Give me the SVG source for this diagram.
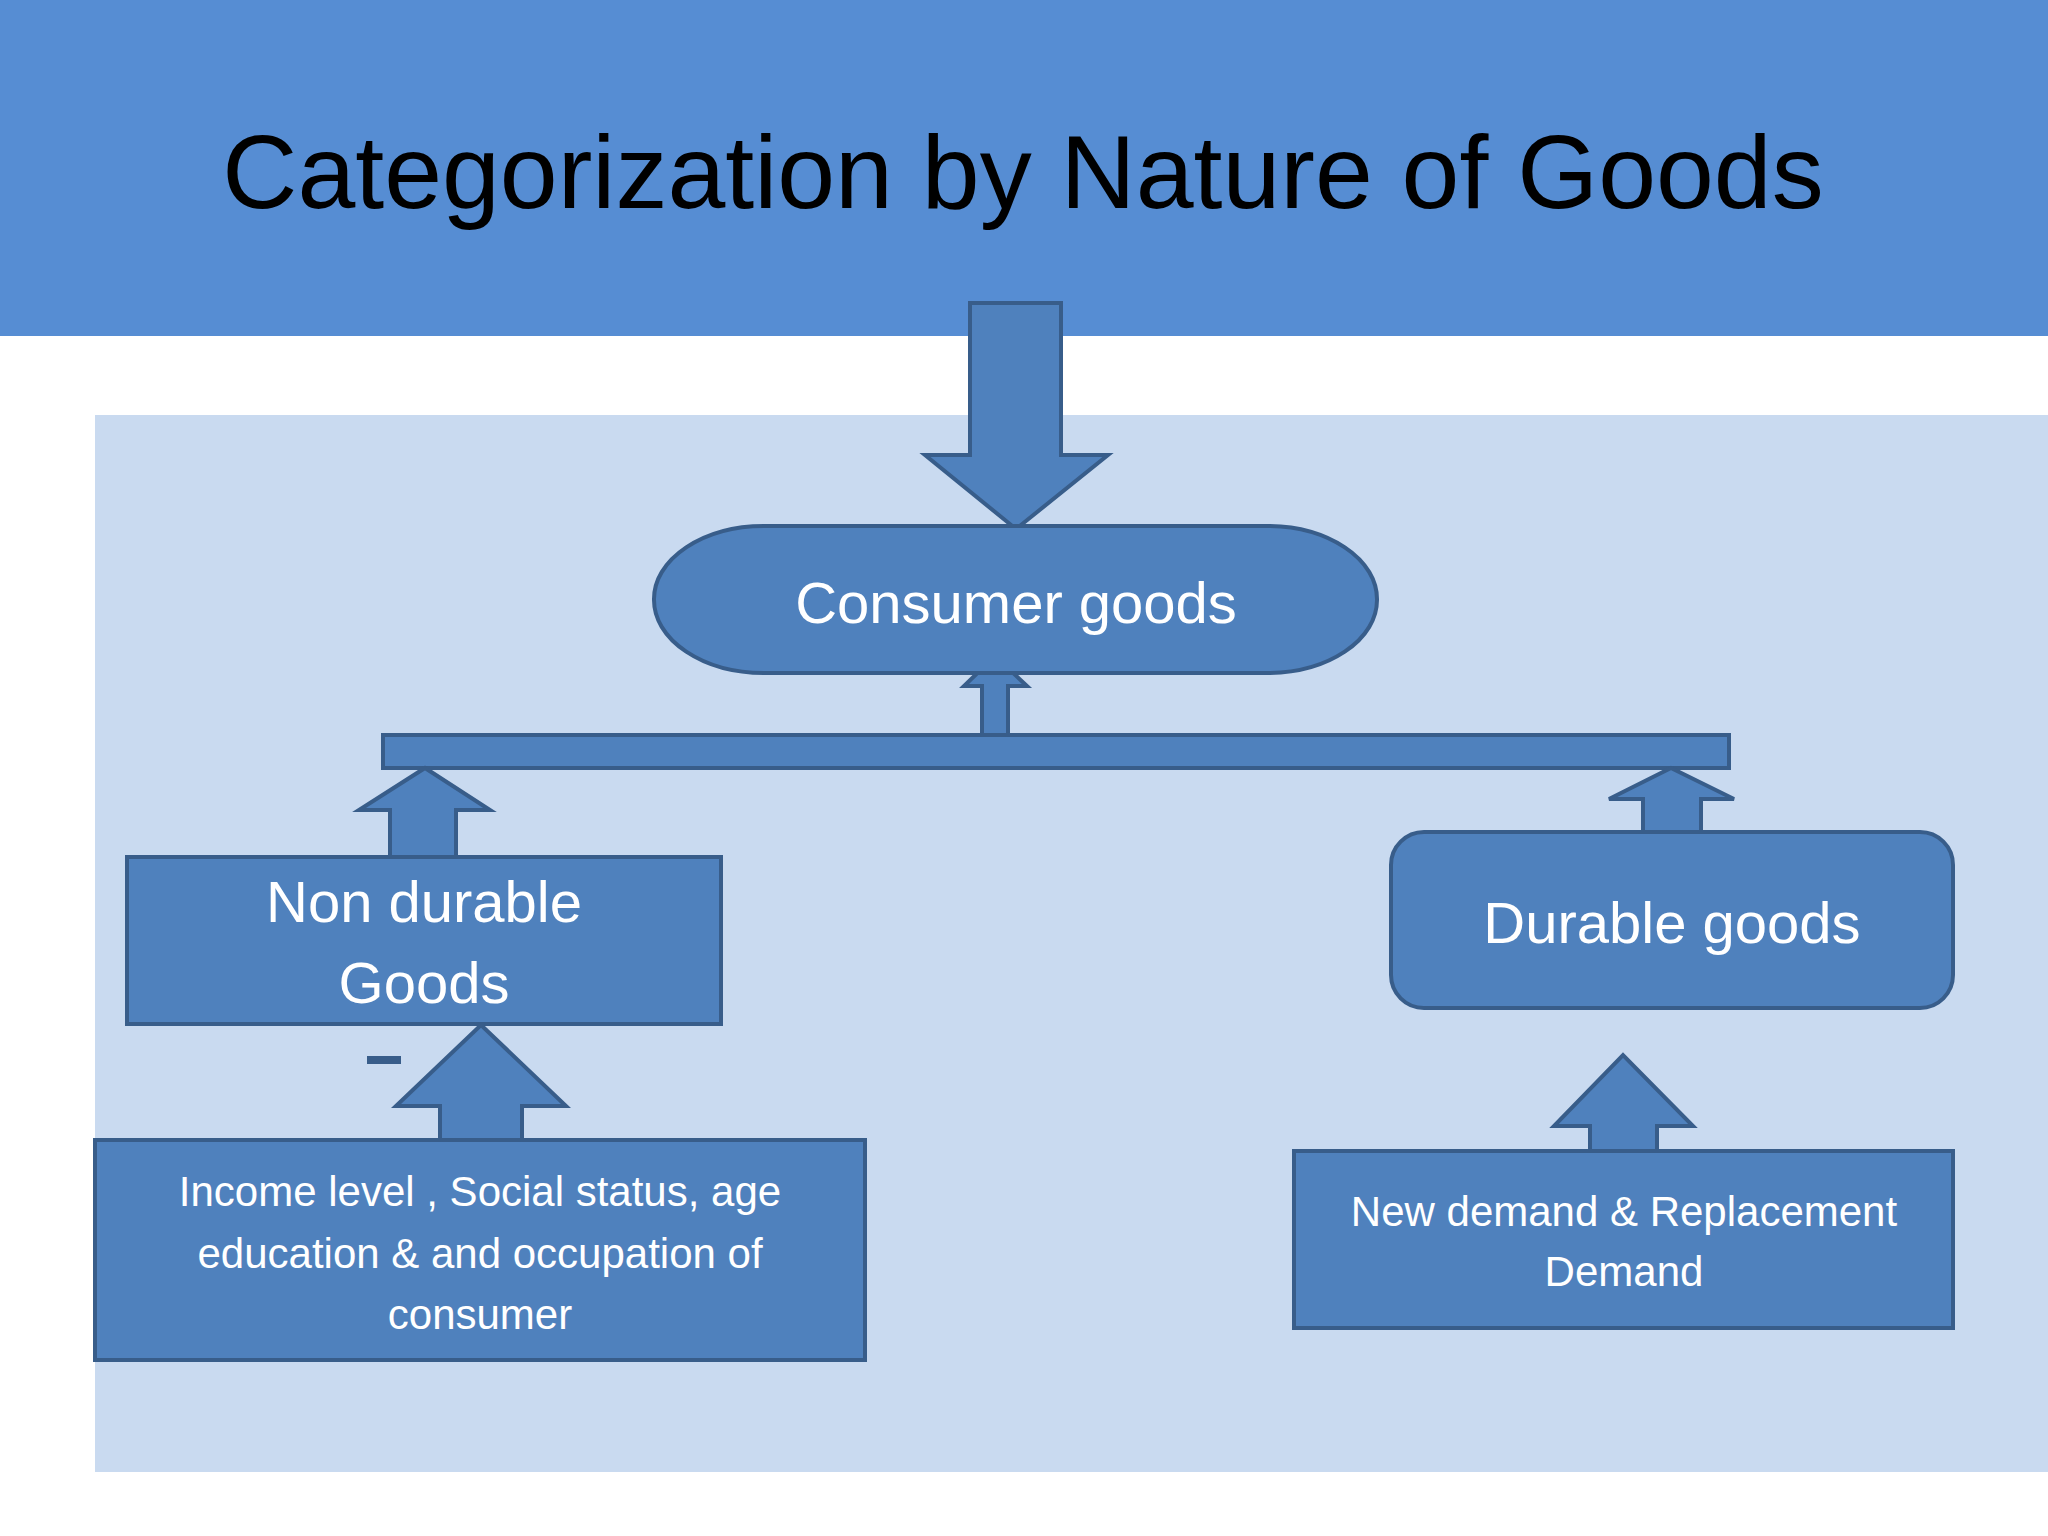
<svg xmlns="http://www.w3.org/2000/svg" width="2048" height="1536" viewBox="0 0 2048 1536">
<style>
.s{fill:#4f81bd;stroke:#385d8a;stroke-width:4}
.t{font-family:"Liberation Sans","Open Sans",sans-serif;fill:#fff;text-anchor:middle;dominant-baseline:central}
</style>
<rect width="2048" height="1536" fill="#fff"/>
<rect width="2048" height="336" fill="#568dd3"/>
<rect x="95" y="415" width="1953" height="1057" fill="#c9daf0"/>
<text x="1023" y="172" font-size="104" font-family="'Liberation Sans','Open Sans',sans-serif" fill="#000" text-anchor="middle" dominant-baseline="central">Categorization by Nature of Goods</text>
<g id="connectors">
<polygon class="s" points="970,303 1061,303 1061,455 1108,455 1016,529 925,455 970,455"/>
<polygon class="s" points="982,751 1008,751 1008,686 1027,686 995,656 964,686 982,686"/>
<rect class="s" x="974" y="750" width="50" height="13"/>
<rect class="s" x="383" y="735" width="1346" height="33"/>
<polygon class="s" points="390,858 456,858 456,810 490,810 425,768 359,810 390,810"/>
<polygon class="s" points="1643,832 1701,832 1701,799 1734,799 1671,768 1609,799 1643,799"/>
<polygon class="s" points="440,1142 522,1142 522,1106 566,1106 481,1025 396,1106 440,1106"/>
<polygon class="s" points="1590,1151 1657,1151 1657,1126 1693,1126 1623,1055 1554,1126 1590,1126"/>
<rect x="367" y="1056" width="34" height="8" fill="#385d8a"/>
</g>
<g id="consumer"><rect class="s" x="654" y="526" width="723" height="147" rx="110" ry="73"/><text class="t" x="1016" y="602" font-size="58">Consumer goods</text></g>
<g id="nondurable"><rect class="s" x="127" y="857" width="594" height="167"/><text class="t" x="424" y="901" font-size="58">Non  durable</text><text class="t" x="424" y="982" font-size="58">Goods</text></g>
<g id="durable"><rect class="s" x="1391" y="832" width="562" height="176" rx="33"/><text class="t" x="1672" y="922" font-size="58">Durable goods</text></g>
<g id="income"><rect class="s" x="95" y="1140" width="770" height="220"/><text class="t" x="480" y="1191" font-size="42">Income level , Social status, age</text><text class="t" x="480" y="1253" font-size="42">education &amp; and occupation of</text><text class="t" x="480" y="1314" font-size="42">consumer</text></g>
<g id="demand"><rect class="s" x="1294" y="1151" width="659" height="177"/><text class="t" x="1624" y="1211" font-size="42">New demand &amp; Replacement</text><text class="t" x="1624" y="1271" font-size="42">Demand</text></g>
</svg>
